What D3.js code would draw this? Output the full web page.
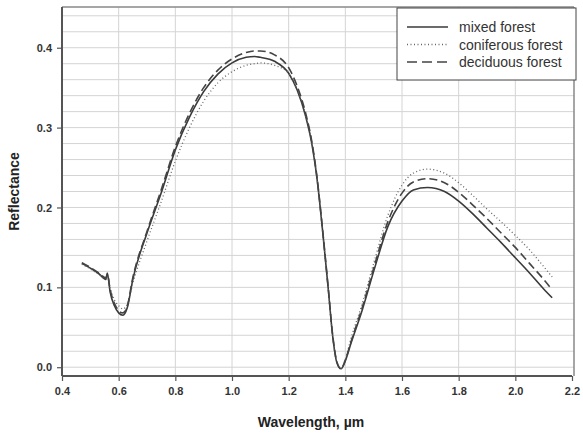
<!DOCTYPE html>
<html>
<head>
<meta charset="utf-8">
<script src="https://cdn.jsdelivr.net/npm/d3@7"></script>
<style>
  html, body { margin: 0; padding: 0; background: #fff; }
  svg { display: block; font-family: "Liberation Sans", Arial, sans-serif; }
</style>
</head>
<body>
<svg id="chart" width="583" height="433"></svg>
<script>
// Wavelength samples (µm) shared by all three spectra
const wavelength = [0.47, 0.50, 0.53, 0.555, 0.56, 0.57, 0.585, 0.60, 0.615, 0.63, 0.65,
  0.70, 0.75, 0.80, 0.85, 0.90, 0.95, 1.00, 1.05, 1.08, 1.10, 1.15, 1.20, 1.23, 1.26,
  1.28, 1.30, 1.32, 1.34, 1.355, 1.37, 1.385, 1.40, 1.42, 1.46, 1.50, 1.55, 1.60, 1.64,
  1.69, 1.75, 1.80, 1.85, 1.90, 1.95, 2.00, 2.05, 2.10, 2.13];

const mixed = [0.130, 0.124, 0.117, 0.110, 0.118, 0.094, 0.077, 0.068, 0.065, 0.074, 0.110,
  0.168, 0.218, 0.272, 0.313, 0.345, 0.367, 0.381, 0.388, 0.389, 0.388, 0.383, 0.368, 0.347, 0.314,
  0.283, 0.236, 0.170, 0.097, 0.040, 0.006, -0.002, 0.008, 0.030, 0.072, 0.120, 0.176, 0.208, 0.222,
  0.225, 0.220, 0.208, 0.192, 0.174, 0.156, 0.137, 0.118, 0.098, 0.087];

const coniferous = [0.129, 0.123, 0.116, 0.111, 0.114, 0.099, 0.084, 0.077, 0.073, 0.078, 0.105,
  0.158, 0.207, 0.258, 0.300, 0.333, 0.356, 0.370, 0.378, 0.380, 0.381, 0.378, 0.368, 0.348, 0.316,
  0.285, 0.237, 0.170, 0.097, 0.040, 0.006, -0.001, 0.010, 0.036, 0.080, 0.130, 0.190, 0.228, 0.243,
  0.248, 0.243, 0.231, 0.215, 0.198, 0.182, 0.165, 0.147, 0.126, 0.113];

const deciduous = [0.131, 0.125, 0.118, 0.112, 0.116, 0.097, 0.080, 0.071, 0.068, 0.076, 0.112,
  0.170, 0.222, 0.276, 0.318, 0.350, 0.372, 0.386, 0.394, 0.396, 0.396, 0.391, 0.375, 0.352, 0.318,
  0.286, 0.238, 0.171, 0.098, 0.041, 0.007, -0.002, 0.009, 0.032, 0.075, 0.124, 0.182, 0.218, 0.232,
  0.236, 0.231, 0.219, 0.203, 0.186, 0.168, 0.150, 0.130, 0.110, 0.097];

const seriesNames = ["mixed forest", "coniferous forest", "deciduous forest"];
const xTicks = [0.4, 0.6, 0.8, 1.0, 1.2, 1.4, 1.6, 1.8, 2.0, 2.2];
const yTicks = [0.0, 0.1, 0.2, 0.3, 0.4];

const series = [
  { name: seriesNames[0], values: mixed, color: "#3a3a3a", width: 1.6, dash: null, legDash: null },
  { name: seriesNames[1], values: coniferous, color: "#666", width: 1.3, dash: "1,2.5", legDash: "1,2.5" },
  { name: seriesNames[2], values: deciduous, color: "#444", width: 1.6, dash: "8,4", legDash: "10,5" },
];

const svg = d3.select("#chart");
const m = { left: 62, top: 7, right: 9, bottom: 57 };
const W = 583, H = 433;

const x = d3.scaleLinear().domain([0.4, 2.2]).range([m.left, W - m.right - 2]);
const y = d3.scaleLinear().domain([-0.011, 0.451]).range([H - m.bottom, m.top]);

// Grid
const g = svg.append("g");
g.selectAll("line.hgrid")
  .data(d3.range(0, 0.4501, 0.02))
  .join("line")
  .attr("x1", x(0.4)).attr("x2", W - m.right)
  .attr("y1", d => y(d)).attr("y2", d => y(d))
  .attr("stroke", "#d4d4d4").attr("stroke-width", 1);
g.selectAll("line.vgrid")
  .data(xTicks.slice(1, -1))
  .join("line")
  .attr("x1", d => x(d)).attr("x2", d => x(d))
  .attr("y1", m.top).attr("y2", H - m.bottom)
  .attr("stroke", "#d4d4d4").attr("stroke-width", 1);

// Frame (top and right)
svg.append("line").attr("x1", m.left).attr("x2", W - m.right)
  .attr("y1", m.top).attr("y2", m.top).attr("stroke", "#888").attr("stroke-width", 1.5);
svg.append("line").attr("x1", W - m.right).attr("x2", W - m.right)
  .attr("y1", m.top).attr("y2", H - m.bottom).attr("stroke", "#888").attr("stroke-width", 1.5);

// Curves
const line = d3.line()
  .x((d, i) => x(wavelength[i]))
  .y(d => y(d))
  .curve(d3.curveMonotoneX);

series.forEach(s => {
  svg.append("path")
    .attr("d", line(s.values))
    .attr("fill", "none")
    .attr("stroke", s.color)
    .attr("stroke-width", s.width)
    .attr("stroke-dasharray", s.dash);
});

// Axes
const xAxis = svg.append("g")
  .attr("transform", `translate(0,${H - m.bottom})`)
  .call(d3.axisBottom(x).tickValues(xTicks).tickFormat(d3.format(".1f")).tickSize(5).tickPadding(6));
const yAxis = svg.append("g")
  .attr("transform", `translate(${m.left},0)`)
  .call(d3.axisLeft(y).tickValues(yTicks).tickFormat(d3.format(".1f")).tickSize(5).tickPadding(5));

[xAxis, yAxis].forEach(a => {
  a.select(".domain").attr("stroke", "#555").attr("stroke-width", 2);
  a.selectAll(".tick line").attr("stroke", "#555").attr("stroke-width", 1.2);
  a.selectAll(".tick text")
    .attr("fill", "#333")
    .attr("font-size", 11)
    .attr("font-weight", "bold")
    .attr("font-family", "Liberation Sans, Arial, sans-serif");
});
// no outer ticks on the axis lines
xAxis.select(".domain").attr("d", `M${x(0.4)},0H${x(2.2)}`);
yAxis.select(".domain").attr("d", `M0,${y(-0.011)}V${m.top}`);

// Axis titles
svg.append("text")
  .attr("x", (x(0.4) + x(2.2)) / 2 - 6)
  .attr("y", 427)
  .attr("text-anchor", "middle")
  .attr("font-size", 14)
  .attr("font-weight", "bold")
  .attr("fill", "#222")
  .text("Wavelength, µm");

svg.append("text")
  .attr("transform", `translate(19,${(m.top + H - m.bottom) / 2}) rotate(-90)`)
  .attr("text-anchor", "middle")
  .attr("font-size", 14)
  .attr("font-weight", "bold")
  .attr("fill", "#222")
  .text("Reflectance");

// Legend
const leg = svg.append("g");
leg.append("rect")
  .attr("x", 397).attr("y", 8)
  .attr("width", 179).attr("height", 72)
  .attr("fill", "#fff")
  .attr("stroke", "#444")
  .attr("stroke-width", 1);

series.forEach((s, i) => {
  const ly = 27 + i * 17.5;
  leg.append("line")
    .attr("x1", 407).attr("x2", 448)
    .attr("y1", ly).attr("y2", ly)
    .attr("stroke", s.color)
    .attr("stroke-width", s.width)
    .attr("stroke-dasharray", s.legDash);
  leg.append("text")
    .attr("x", 459).attr("y", ly + 5)
    .attr("font-size", 14)
    .attr("fill", "#333")
    .text(s.name);
});
</script>
</body>
</html>
